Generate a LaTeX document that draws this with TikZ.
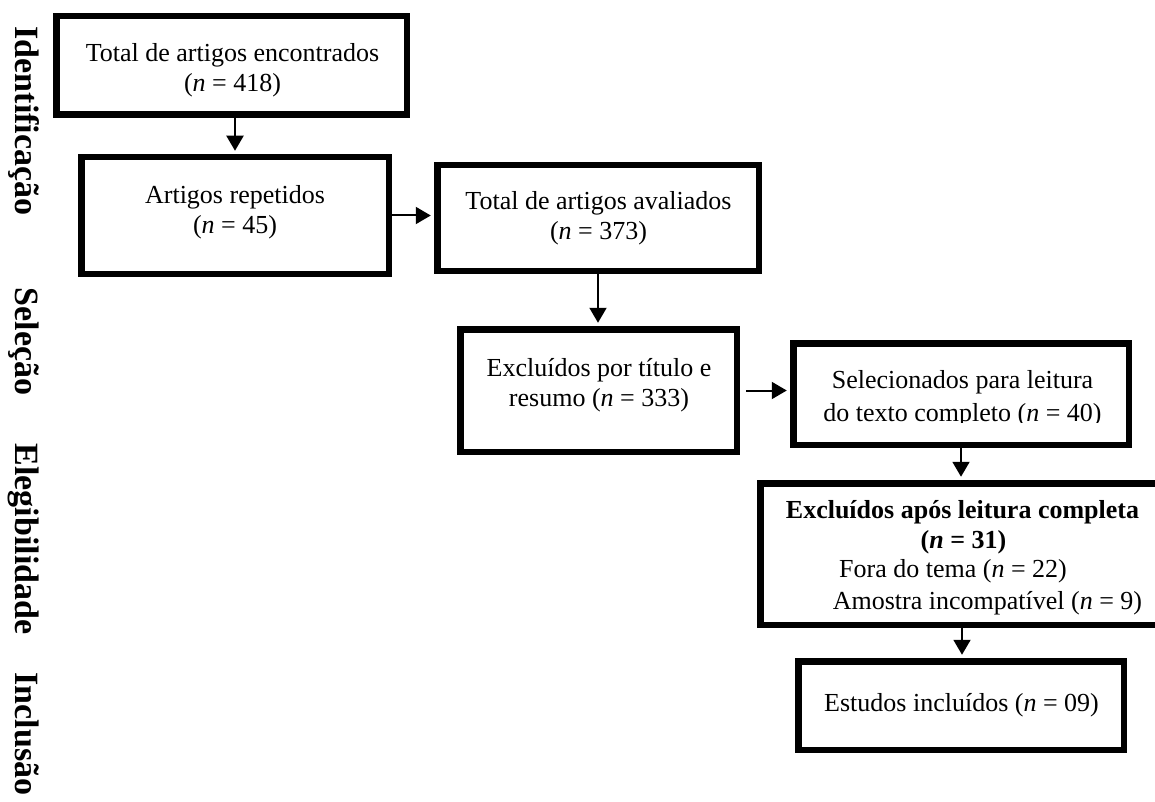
\documentclass[tikz,border=0pt]{standalone}
\usepackage{fontspec}
\setmainfont{Liberation Serif}
\usetikzlibrary{arrows.meta}
\begin{document}
\begin{tikzpicture}[x=1pt,y=-1pt,
  box/.style={draw, line width=6.5pt, inner sep=0pt},
  txt/.style={anchor=base, inner sep=0pt, font=\fontsize{26}{30}\selectfont},
  btxt/.style={anchor=base, inner sep=0pt, font=\fontsize{26}{30}\selectfont\bfseries},
  side/.style={anchor=base, rotate=-90, inner sep=0pt, font=\fontsize{34}{40}\selectfont\bfseries},
  arr/.style={line width=2pt, -{Triangle[length=15pt,width=17pt]}, shorten >=3.25pt}]
\clip (0,0) rectangle (1155,802);
\fill[white] (0,0) rectangle (1155,802);

% side labels
\node[side] (s1) at (15,121) {Identificação};
\node[side] (s2) at (15,341.5) {Seleção};
\node[side] (s3) at (15,539) {Elegibilidade};
\node[side] (s4) at (15,734) {Inclusão};

% boxes
\node[box, minimum width=350.5pt, minimum height=98.5pt] (b1) at (231.5,65.5) {};
\node[box, minimum width=307.5pt, minimum height=116.5pt] (b2) at (235,215.5) {};
\node[box, minimum width=321.5pt, minimum height=105.5pt] (b3) at (598,218) {};
\node[box, minimum width=276.5pt, minimum height=122.5pt] (b4) at (598.5,390.5) {};
\node[box, minimum width=335.5pt, minimum height=101.5pt] (b5) at (961,394) {};
\node[box, minimum width=403.5pt, minimum height=141.5pt] (b6) at (962,554) {};
\node[box, minimum width=325.5pt, minimum height=88.5pt] (b7) at (961,705.5) {};

% texts
\node[txt] (t1a) at (232.5,61.7) {Total de artigos encontrados};
\node[txt] (t1b) at (232.5,91.7) {(\textit{n} = 418)};
\node[txt] (t2a) at (235,203.3) {Artigos repetidos};
\node[txt] (t2b) at (235,233.3) {(\textit{n} = 45)};
\node[txt] (t3a) at (598.5,209.3) {Total de artigos avaliados};
\node[txt] (t3b) at (598.5,239.3) {(\textit{n} = 373)};
\node[txt] (t4a) at (599,376.7) {Excluídos por título e};
\node[txt] (t4b) at (599,406.7) {resumo (\textit{n} = 333)};
\node[txt] (t5a) at (962.5,388) {Selecionados para leitura};
\begin{scope}
\clip (790,340) rectangle (1132,422.5);
\node[txt] (t5b) at (962.5,421.7) {do texto completo (\textit{n} = 40)};
\end{scope}
\node[btxt] (t6a) at (962.5,518) {Excluídos após leitura completa};
\node[btxt] (t6b) at (963.5,548) {(\textit{n} = 31)};
\node[txt] (t6c) at (953,577) {Fora do tema (\textit{n} = 22)};
\node[txt] (t6d) at (987.5,609) {Amostra incompatível (\textit{n} = 9)};
\node[txt] (t7a) at (961.5,711.7) {Estudos incluídos (\textit{n} = 09)};

% connectors
\draw[arr] (b2.north |- b1.south) -- (b2.north);
\draw[arr] (b2.east) -- (b2.east -| b3.west);
\draw[arr] (b3.south) -- (b3.south |- b4.north);
\draw[arr, shorten <=6pt] (b4.east) -- (b4.east -| b5.west);
\draw[arr] (b5.south) -- (b5.south |- b6.north);
\draw[arr] (b6.south) -- (b6.south |- b7.north);
\end{tikzpicture}
\end{document}
